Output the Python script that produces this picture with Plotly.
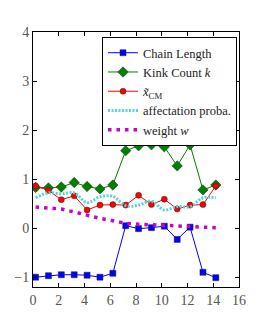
import plotly.graph_objects as go

x = [0.2, 1.2, 2.2, 3.2, 4.2, 5.2, 6.2, 7.2, 8.2, 9.2, 10.2, 11.2, 12.2, 13.2, 14.2]
chain_length = [-1.0, -0.97, -0.95, -0.95, -0.96, -1.0, -0.92, 0.05, -0.01, 0.01, 0.04, -0.23, 0.02, -0.9, -1.01]
kink_count = [0.83, 0.82, 0.84, 0.93, 0.85, 0.80, 0.88, 1.58, 1.68, 1.70, 1.66, 1.27, 1.70, 0.78, 0.88]
x_cm = [0.86, 0.77, 0.58, 0.66, 0.37, 0.47, 0.48, 0.47, 0.67, 0.48, 0.59, 0.39, 0.47, 0.48, 0.86]
affectation = [0.62, 0.72, 0.70, 0.72, 0.52, 0.64, 0.65, 0.46, 0.47, 0.55, 0.37, 0.44, 0.44, 0.62, 0.62]
weight = [0.43, 0.41, 0.39, 0.33, 0.26, 0.20, 0.15, 0.10, 0.08, 0.07, 0.05, 0.04, 0.03, 0.02, 0.01]

x_ticks = [0, 2, 4, 6, 8, 10, 12, 14, 16]
y_ticks = [-1, 0, 1, 2, 3, 4]

FONT = "Liberation Serif"

fig = go.Figure()
fig.add_trace(go.Scatter(
    x=x, y=chain_length, mode="lines+markers", name="Chain Length",
    line=dict(color="#0000ff", width=1),
    marker=dict(symbol="square", size=6, color="#0000ff", line=dict(color="#222222", width=0.5)),
))
fig.add_trace(go.Scatter(
    x=x, y=kink_count, mode="lines+markers", name="Kink Count <i>k</i>",
    line=dict(color="#008000", width=1),
    marker=dict(symbol="diamond", size=8, color="#008000", line=dict(color="#222222", width=0.5)),
))
fig.add_trace(go.Scatter(
    x=x, y=x_cm, mode="lines+markers", name="<i>x̃</i><sub>CM</sub>",
    line=dict(color="#ff0000", width=1),
    marker=dict(symbol="circle", size=6, color="#ff0000", line=dict(color="#222222", width=0.5)),
))
fig.add_trace(go.Scatter(
    x=x, y=affectation, mode="lines", name="affectation proba.",
    line=dict(color="#55d5d5", width=3, dash="2px,1.5px", shape="spline", smoothing=1.0),
))
fig.add_trace(go.Scatter(
    x=x, y=weight, mode="lines", name="weight <i>w</i>",
    line=dict(color="#cc00cc", width=3.5, dash="3.5px,5px"),
))

axis_common = dict(
    showgrid=False, zeroline=False, showline=True, linecolor="black", linewidth=1,
    mirror="ticks", ticks="inside", ticklen=4, tickcolor="black", automargin=False,
    tickfont=dict(family=FONT, size=14, color="#555555"),
)

fig.update_layout(
    width=258, height=311,
    margin=dict(l=25, r=27, t=24, b=32, pad=0),
    paper_bgcolor="white", plot_bgcolor="white",
    font=dict(family=FONT),
    showlegend=True,
    legend=dict(
        x=0.335, y=0.98, xanchor="left", yanchor="top",
        bgcolor="white", bordercolor="black", borderwidth=1,
        font=dict(family=FONT, size=12.5, color="#222222"),
        tracegroupgap=0, itemwidth=30,
    ),
    xaxis=dict(range=[0, 16], tickvals=x_ticks, **axis_common),
    yaxis=dict(range=[-1.2, 4], tickvals=y_ticks, **axis_common),
)

fig.write_html("out.html")
